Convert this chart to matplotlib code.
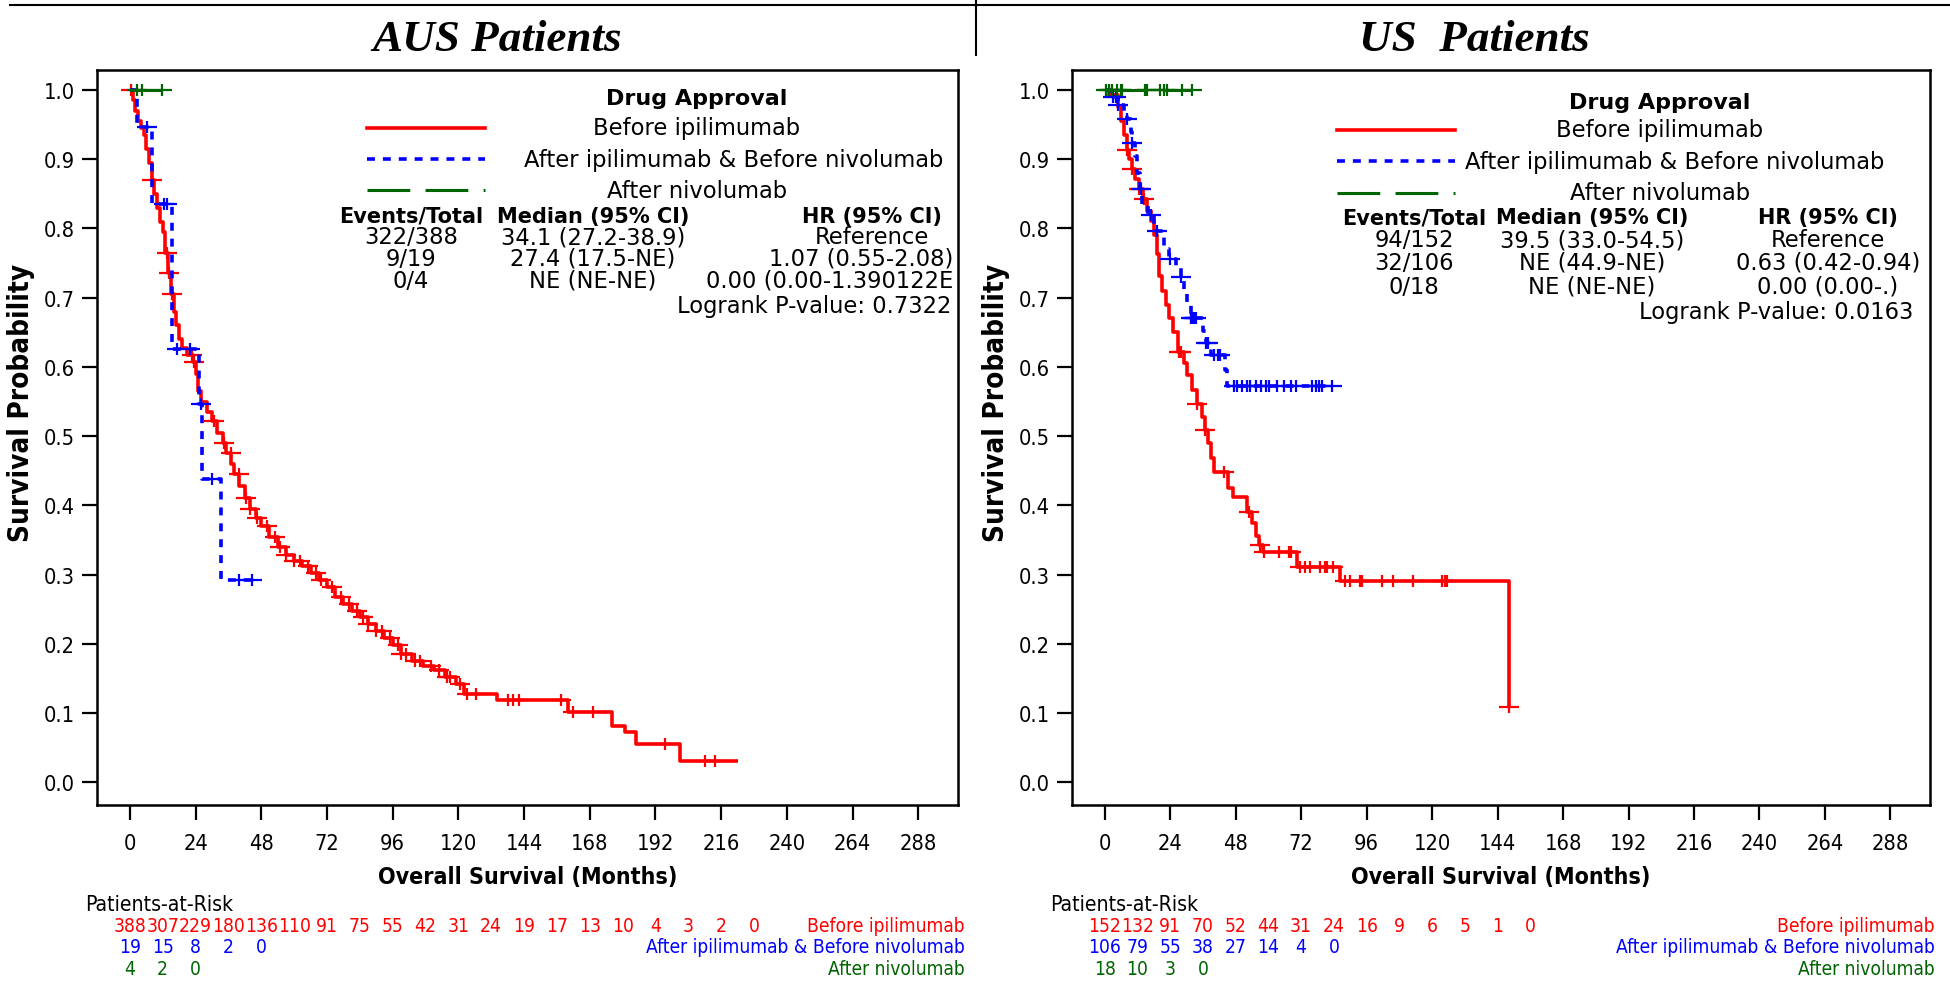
import os
import matplotlib
matplotlib.use("Agg")
import numpy as np
import matplotlib.pyplot as plt
from matplotlib import font_manager
from matplotlib.font_manager import FontProperties
from matplotlib.lines import Line2D
from matplotlib.path import Path
from matplotlib.ticker import FormatStrFormatter
from matplotlib.transforms import blended_transform_factory

W, H = 1950, 995
RED, BLUE, GREEN = "#ff0000", "#0000ff", "#006400"

# ---- AUS patients: Kaplan-Meier steps (months, survival) and censor times ----
aus_before_t = [0, 1, 2, 3, 4, 5, 6, 7, 8, 9, 10, 11, 12, 13, 14, 15, 16, 17, 18, 19, 21, 23,
                24, 25, 26, 28, 30, 32, 34, 35, 37, 38, 40, 42, 44, 46, 48, 51, 54, 57, 60, 63,
                66, 69, 72, 75, 78, 81, 84, 87, 90, 93, 96, 99, 103, 107, 111, 115, 119, 122,
                134, 160, 176, 181, 185, 201, 222]
aus_before_s = [1.0, 0.985, 0.97, 0.955, 0.945, 0.935, 0.915, 0.895, 0.87, 0.85, 0.83, 0.81,
                0.795, 0.765, 0.735, 0.705, 0.68, 0.66, 0.64, 0.627, 0.617, 0.607, 0.59, 0.565,
                0.55, 0.535, 0.522, 0.505, 0.49, 0.475, 0.46, 0.445, 0.428, 0.41, 0.395, 0.382,
                0.37, 0.354, 0.34, 0.328, 0.32, 0.312, 0.302, 0.292, 0.282, 0.268, 0.257, 0.247,
                0.238, 0.228, 0.218, 0.208, 0.198, 0.185, 0.175, 0.168, 0.162, 0.152, 0.142,
                0.127, 0.118, 0.101, 0.081, 0.072, 0.055, 0.03, 0.03]
aus_before_c = [0.5, 8, 13.5, 14.2, 15.4, 22.7, 23.5, 30.7, 34.3, 36.8, 39.8, 42.3, 44, 46.5,
                50, 53, 55, 57, 60, 62, 65, 68, 70, 74, 77, 80, 83, 85, 87, 90, 92, 95, 97.8,
                99, 101, 104, 106, 110, 112.8, 116, 117, 120.7, 123, 126.6, 138, 140, 142,
                157.6, 161.8, 169.2, 195.4, 210.2, 213.7]

aus_mid_t = [0, 2.5, 8.1, 15.4, 25.2, 26.4, 33.3, 44.5]
aus_mid_s = [1.0, 0.947, 0.835, 0.626, 0.546, 0.438, 0.292, 0.292]
aus_mid_c = [6.2, 12.3, 13.6, 17.2, 22, 26, 30, 40, 44.5]

aus_after_t = [0, 11.7]
aus_after_s = [1.0, 1.0]
aus_after_c = [2.6, 4.4, 11.7]

# ---- US patients ----
us_before_t = [0, 1.5, 5, 6, 7, 8, 9, 10, 11, 12.5, 14, 15.5, 16.8, 18, 19, 19.8, 21, 22.3,
               23.5, 25, 27, 29, 30.2, 32, 33.9, 35.5, 36.9, 38, 39, 40, 45, 47, 52, 54, 55.5,
               56.5, 58, 70.5, 86.3, 148, 148.5]
us_before_s = [1.0, 0.993, 0.975, 0.955, 0.935, 0.913, 0.90, 0.886, 0.872, 0.857, 0.843,
               0.825, 0.811, 0.79, 0.763, 0.732, 0.71, 0.689, 0.67, 0.65, 0.622, 0.605, 0.588,
               0.567, 0.547, 0.528, 0.509, 0.49, 0.468, 0.448, 0.425, 0.412, 0.39, 0.375,
               0.355, 0.343, 0.333, 0.311, 0.29, 0.108, 0.108]
us_before_c = [8.3, 10.1, 12.6, 13, 14.4, 27.2, 28, 33.9, 36.9, 43.6, 52.8, 56.8, 58.5, 64,
               67.6, 68.2, 71.7, 73.5, 75.3, 79, 80.8, 81.4, 83.8, 88.1, 89.9, 93.6, 94.2,
               101.5, 105.8, 113.1, 123.5, 124.7, 125.3, 148]

us_mid_t = [0, 2, 5, 7, 8, 9.5, 10.1, 11, 12, 13, 13.5, 16, 18, 21.8, 23.5, 26, 27.8, 29, 30,
            31.5, 36, 37, 39, 44, 44.8, 83.6]
us_mid_s = [1.0, 0.99, 0.978, 0.968, 0.958, 0.94, 0.924, 0.905, 0.88, 0.857, 0.836, 0.82,
            0.797, 0.771, 0.756, 0.745, 0.73, 0.71, 0.69, 0.67, 0.652, 0.634, 0.617, 0.595,
            0.573, 0.573]
us_mid_c = [3, 4, 5, 8.3, 10.1, 13.2, 16.8, 19.3, 24.1, 27.8, 31.5, 32.2, 32.7, 33.5, 37, 38,
            40, 41.5, 42.2, 47.3, 48.5, 50.4, 52.2, 53.4, 55.3, 57.1, 59, 60.2, 63.3, 65.7,
            68.2, 70, 76.1, 77.3, 78.5, 79.7, 83.4]

us_after_t = [0, 32]
us_after_s = [1.0, 1.0]
us_after_c = [0.3, 1.5, 2.5, 4.6, 5.8, 6.5, 14.9, 15.5, 20.4, 21.6, 22.8, 28.3, 32]

# ---- patients at risk (every 12 months) ----
aus_risk_before = [388, 307, 229, 180, 136, 110, 91, 75, 55, 42, 31, 24, 19, 17, 13, 10, 4, 3, 2, 0]
aus_risk_mid = [19, 15, 8, 2, 0]
aus_risk_after = [4, 2, 0]
us_risk_before = [152, 132, 91, 70, 52, 44, 31, 24, 16, 9, 6, 5, 1, 0]
us_risk_mid = [106, 79, 55, 38, 27, 14, 4, 0]
us_risk_after = [18, 10, 3, 0]

group_labels = ["Before ipilimumab", "After ipilimumab & Before nivolumab", "After nivolumab"]
aus_stats = [["322/388", "34.1 (27.2-38.9)", "Reference"],
             ["9/19", "27.4 (17.5-NE)", "1.07 (0.55-2.08)"],
             ["0/4", "NE (NE-NE)", "0.00 (0.00-1.390122E"]]
us_stats = [["94/152", "39.5 (33.0-54.5)", "Reference"],
            ["32/106", "NE (44.9-NE)", "0.63 (0.42-0.94)"],
            ["0/18", "NE (NE-NE)", "0.00 (0.00-.)"]]
aus_p = "0.7322"
us_p = "0.0163"


# narrow sans for axes / at-risk table (Arial Narrow look), best available
def pick_font(files):
    by_base = {os.path.basename(f.fname): f.fname for f in font_manager.fontManager.ttflist}
    for name, scale in files:
        if name in by_base:
            return by_base[name], scale
    return None, 1.0


narrow_reg, NSCALE = pick_font([("LiberationSansNarrow-Regular.ttf", 1.2),
                                ("DejaVuSansCondensed.ttf", 0.95),
                                ("RobotoCondensed-Regular.ttf", 1.1)])
narrow_bold, _ = pick_font([("LiberationSansNarrow-Bold.ttf", 1.2),
                            ("DejaVuSansCondensed-Bold.ttf", 0.95),
                            ("RobotoCondensed-Bold.ttf", 1.1)])


def nfont(size, bold=False):
    path = narrow_bold if bold else narrow_reg
    if path:
        return FontProperties(fname=path, size=size * NSCALE)
    return FontProperties(family="Liberation Sans", weight="bold" if bold else "normal",
                          size=size)


SANS = "DejaVu Sans"
PLUS = Path([(-1, 0), (1, 0), (0, -0.6), (0, 0.6)],
            [Path.MOVETO, Path.LINETO, Path.MOVETO, Path.LINETO])
STYLES = [dict(color=RED, lw=2.6, ls="-"),
          dict(color=BLUE, lw=2.6, ls=(0, (2.2, 2.2))),
          dict(color=GREEN, lw=2.2, ls=(0, (14, 5)))]


def fx(x):
    return x / W


def fy(y):
    return 1 - y / H


def km(ax, t, s, cens, style):
    ax.step(t, s, where="post", solid_capstyle="butt", **style)
    idx = np.searchsorted(t, cens, side="right") - 1
    ax.plot(cens, np.asarray(s)[idx], ls="none", marker=PLUS, ms=15, mew=1.6,
            color=style["color"])


def panel(ax, curves, risks, stats, pval, x_leg, x_cols, y_rows, x_risk_lab, x_risk_title):
    for (t, s, c), st in zip(curves, STYLES):
        km(ax, t, s, c, st)
    ax.set_xlim(-12, 302.5)
    ax.set_ylim(-0.033, 1.029)
    ax.set_xticks(np.arange(0, 289, 24))
    ax.set_yticks(np.arange(0, 1.01, 0.1))
    ax.yaxis.set_major_formatter(FormatStrFormatter("%.1f"))
    ax.tick_params(direction="out", length=11, width=1.6, pad=5)
    ax.tick_params(axis="x", pad=9)
    for lab in ax.get_xticklabels() + ax.get_yticklabels():
        lab.set_fontproperties(nfont(16.5))
    for sp in ax.spines.values():
        sp.set_linewidth(1.8)
    ax.set_xlabel("Overall Survival (Months)", fontproperties=nfont(17.5, bold=True))
    ax.xaxis.set_label_coords(0.5, (806 - 878) / 735)
    ax.xaxis.label.set_va("center")
    ax.set_ylabel("Survival Probability", fontproperties=nfont(21, bold=True))
    ax.yaxis.set_label_coords(-0.088, 0.548)
    ax.yaxis.label.set_va("center")

    # legend block
    lx0, lx1 = x_leg
    y_title, y1, y2, y3, y_head, ys, y_p = y_rows
    tx = dict(family=SANS, fontsize=16.3, ha="center", va="center")
    fig.text(fx(x_cols[3]), fy(y_title), "Drug Approval", **{**tx, "fontsize": 16},
             weight="bold")
    for (yy, lab, st, cx) in zip((y1, y2, y3), group_labels, STYLES,
                                 (x_cols[3], x_cols[4], x_cols[3])):
        fig.add_artist(Line2D([fx(lx0), fx(lx1)], [fy(yy)] * 2, **st))
        fig.text(fx(cx), fy(yy), lab, **tx)
    for cx, head in zip(x_cols[:3], ["Events/Total", "Median (95% CI)", "HR (95% CI)"]):
        fig.text(fx(cx), fy(y_head), head, weight="bold", **{**tx, "fontsize": 15})
    for yy, row in zip(ys, stats):
        for k, (cx, val) in enumerate(zip(x_cols[:3], row)):
            t = fig.text(fx(cx), fy(yy), val, **tx)
            # long HR text is cut at the panel edge in the original
            if k == 2 and t.get_window_extent(fig.canvas.get_renderer()).x1 > ax.bbox.x1 - 6:
                t.set_ha("right")
                t.set_x(fx(x_cols[5] + 2))
    fig.text(fx(x_cols[5]), fy(y_p), f"Logrank P-value: {pval}", **{**tx, "ha": "right"})

    # patients at risk, one column every 12 months
    tr = blended_transform_factory(ax.transData, fig.transFigure)
    fig.text(fx(x_risk_title), fy(905), "Patients-at-Risk", ha="left", va="center",
             fontproperties=nfont(16))
    for yy, counts, color, lab in zip((926, 948, 970), risks, (RED, BLUE, GREEN), group_labels):
        for i, n in enumerate(counts):
            ax.text(12 * i, fy(yy), str(n), transform=tr, ha="center", va="center",
                    fontproperties=nfont(14.5), color=color, clip_on=False)
        fig.text(fx(x_risk_lab), fy(yy), lab, ha="right", va="center",
                 fontproperties=nfont(14.5), color=color)


fig = plt.figure(figsize=(W / 100, H / 100), dpi=100)
ax_l = fig.add_axes([fx(97), fy(806), (958 - 97) / W, (806 - 71) / H])
ax_r = fig.add_axes([fx(1072), fy(806), (1930 - 1072) / W, (806 - 71) / H])

panel(ax_l,
      [(aus_before_t, aus_before_s, aus_before_c), (aus_mid_t, aus_mid_s, aus_mid_c),
       (aus_after_t, aus_after_s, aus_after_c)],
      [aus_risk_before, aus_risk_mid, aus_risk_after], aus_stats, aus_p,
      (367, 485), (411, 593, 872, 697, 734, 951),
      (99, 129, 160, 191, 217, (238, 259, 281), 307), 965, 85)
panel(ax_r,
      [(us_before_t, us_before_s, us_before_c), (us_mid_t, us_mid_s, us_mid_c),
       (us_after_t, us_after_s, us_after_c)],
      [us_risk_before, us_risk_mid, us_risk_after], us_stats, us_p,
      (1337, 1455), (1414, 1592, 1828, 1660, 1675, 1913),
      (103, 131, 162, 194, 218, (241, 263, 287), 312), 1935, 1050)

fig.text(fx(497), fy(40), "AUS Patients", ha="center", va="center", family="Liberation Serif",
         weight="bold", style="italic", fontsize=32.5)
fig.text(fx(1474), fy(40), "US  Patients", ha="center", va="center", family="Liberation Serif",
         weight="bold", style="italic", fontsize=32.5)
fig.add_artist(Line2D([fx(10), 1], [fy(6)] * 2, color="black", lw=1.5))
fig.add_artist(Line2D([fx(976)] * 2, [1, fy(56)], color="black", lw=1.5))

fig.savefig("out.png", dpi=100)
